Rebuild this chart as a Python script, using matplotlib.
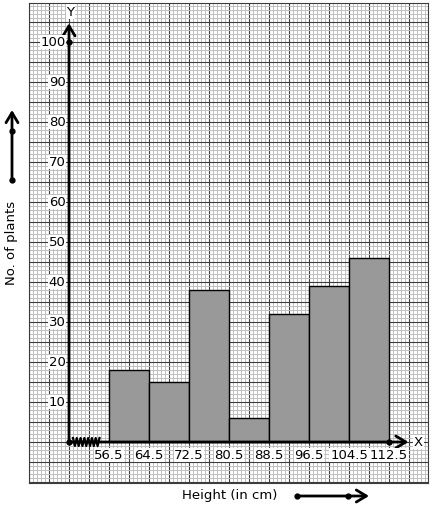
import numpy as np
import matplotlib
matplotlib.use("Agg")
import matplotlib.pyplot as plt

# class intervals (height in cm) and number of plants
edges = [56.5, 64.5, 72.5, 80.5, 88.5, 96.5, 104.5, 112.5]
plants = [18, 15, 38, 6, 32, 39, 46]
y_ticks = [10, 20, 30, 40, 50, 60, 70, 80, 90, 100]

origin_x = 48.5  # kinked axis: origin sits one class width before 56.5
FS = 9.5
ARROW = dict(arrowstyle="->, head_width=0.36, head_length=0.6", lw=2,
             color="black", mutation_scale=12, shrinkA=0, shrinkB=0)


def graph_paper(ax, x_lo, x_hi, y_lo, y_hi):
    xs = np.arange(x_lo, x_hi + 0.01, 0.8)
    for i, x in enumerate(xs):
        major = i % 5 == 0
        ax.axvline(x, color="#3c3c3c" if major else "#c0c0c0",
                   lw=0.8 if major else 0.7, zorder=0)
    ys = np.arange(np.ceil(y_lo), y_hi + 0.01, 1)
    for y in ys:
        major = int(y) % 5 == 0
        ax.axhline(y, color="#3c3c3c" if major else "#c0c0c0",
                   lw=0.8 if major else 0.7, zorder=0)


fig = plt.figure(figsize=(4.34, 5.10), dpi=100)
ax = fig.add_axes([29 / 434, 26 / 510, 399 / 434, 480 / 510])
x_lo, x_hi = 40.5, 120.3
y_lo, y_hi = -10.25, 109.75
ax.set_xlim(x_lo, x_hi)
ax.set_ylim(y_lo, y_hi)
ax.set_xticks([])
ax.set_yticks([])
for s in ax.spines.values():
    s.set_color("#3c3c3c")
    s.set_linewidth(0.8)
graph_paper(ax, x_lo, x_hi, y_lo, y_hi)

ax.bar(edges[:-1], plants, width=8, align="edge", color="#999999",
       edgecolor="black", linewidth=1, zorder=2)

# axes with arrows
ax.annotate("", xy=(origin_x, 104.7), xytext=(origin_x, 0),
            arrowprops=ARROW, zorder=4)
ax.annotate("", xy=(116.4, 0), xytext=(origin_x, 0),
            arrowprops=ARROW, zorder=4)
ax.plot([origin_x, origin_x, edges[-1]], [0, 100, 0], "o", color="black",
        ms=3.5, zorder=5)

# zigzag kink on x axis
zx = np.linspace(49.3, 54.6, 15)
zy = np.tile([1.0, -1.0], 8)[:15]
ax.plot(zx, zy, color="black", lw=1.6, zorder=5)

ax.text(origin_x + 0.3, 107.6, "Y", ha="center", va="center", fontsize=FS,
        bbox=dict(fc="white", ec="none", pad=0.5), zorder=6)
ax.text(118.4, 0, "X", ha="center", va="center", fontsize=FS,
        bbox=dict(fc="white", ec="none", pad=0.5), zorder=6)

for v in y_ticks:
    ax.text(origin_x - 0.7, v, str(v), ha="right", va="center", fontsize=FS,
            bbox=dict(fc="white", ec="none", pad=0.5), zorder=6)
for e in edges:
    ax.text(e, -3.2, str(e), ha="center", va="center", fontsize=FS,
            bbox=dict(fc="white", ec="none", pad=0.5), zorder=6)

# axis titles with decorative arrows
fig.text(230 / 434, 1 - 496 / 510, "Height (in cm)", ha="center",
         va="center", fontsize=FS)
fig.text(12 / 434, 1 - 243 / 510, "No. of plants", ha="center",
         va="center", rotation=90, fontsize=FS)

ov = fig.add_axes([0, 0, 1, 1], facecolor="none")
ov.set_xlim(0, 434)
ov.set_ylim(510, 0)
ov.axis("off")
ov.annotate("", xy=(12, 111), xytext=(12, 181), arrowprops=ARROW)
ov.plot([12, 12], [181, 132], "o", color="black", ms=3.5)
ov.annotate("", xy=(369, 497), xytext=(297, 497), arrowprops=ARROW)
ov.plot([297, 348], [497, 497], "o", color="black", ms=3.5)

fig.savefig("out.png", dpi=100)
